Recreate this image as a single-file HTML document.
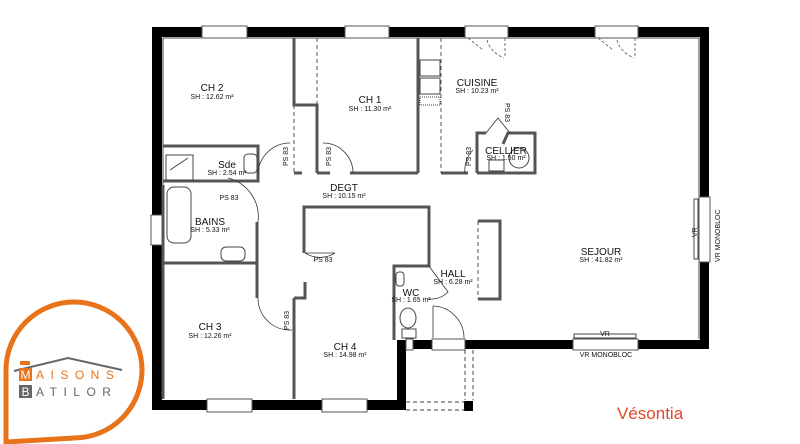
<!DOCTYPE html>
<html><head><meta charset="utf-8"><style>
html,body{margin:0;padding:0;background:#fff}
svg{display:block}
text{font-family:"Liberation Sans",Arial,sans-serif;fill:#111}
.n{font-size:10px}
.s{font-size:7px}
</style></head><body>
<svg width="800" height="444" viewBox="0 0 800 444" xmlns="http://www.w3.org/2000/svg">
<rect width="800" height="444" fill="#fff"/>
<!-- exterior black walls -->
<g fill="#000">
<rect x="152" y="27" width="557" height="10"/>
<rect x="152" y="27" width="10" height="383"/>
<rect x="152" y="400" width="253" height="10"/>
<rect x="397" y="340" width="9" height="70"/>
<rect x="406" y="340" width="303" height="9"/>
<rect x="700" y="27" width="9" height="322"/>
<rect x="464" y="401" width="9" height="10"/>
</g>
<!-- inner wall line -->
<path d="M163 38 H699 V339 M163 38 V399" fill="none" stroke="#444" stroke-width="1"/>
<!-- windows -->
<g fill="#fff" stroke="#555" stroke-width="1">
<rect x="202" y="26" width="45" height="12"/>
<rect x="345" y="26" width="44" height="12"/>
<rect x="465" y="26" width="43" height="12"/>
<rect x="595" y="26" width="43" height="12"/>
<rect x="151" y="215" width="12" height="30"/>
<rect x="207" y="399" width="45" height="13"/>
<rect x="322" y="399" width="45" height="13"/>
<rect x="573" y="339" width="65" height="11"/>
<rect x="699" y="197" width="11" height="65"/>
<rect x="432" y="339" width="33" height="11"/>
<rect x="406" y="339" width="7" height="11" fill="#fff"/>
</g>
<!-- window swings in kitchen/sejour -->
<g fill="none" stroke="#555" stroke-width="0.8" stroke-dasharray="3,2">
<path d="M468 38 L483 50 M487 40 Q490 52 504 58 M505 38 V58"/>
<path d="M598 38 L613 50 M617 40 Q620 52 634 58 M635 38 V58"/>
</g>
<!-- garage dashed -->
<path d="M406 410 H465 M465 350 V400 M473 350 V400" fill="none" stroke="#444" stroke-width="1" stroke-dasharray="4,3"/>
<path d="M406 402 H465" fill="none" stroke="#444" stroke-width="1" stroke-dasharray="4,3"/>
<!-- interior walls -->
<g fill="none" stroke="#555" stroke-width="3">
<path d="M294 38 V105 H317 V173"/>
<path d="M418 38 V173"/>
<path d="M163 146 H258 V181 H163"/>
<path d="M163 263 H257 V222"/>
<path d="M257 263 V298"/>
<path d="M294 298 V399"/>
<path d="M294 298 H305 V282 M304 253 V207 H429 V266 H394 V340"/>
<path d="M317 173 H330 M350 173 H418 M441 173 H468 M294 173 H302"/>
<path d="M477 173 V133 H486 M503 144 L508 133 H535 V173 H477"/>
<path d="M478 221 H500 V299 H478"/>
<path d="M163 185 V399"/>
</g>
<g fill="none" stroke="#555" stroke-width="1" stroke-dasharray="4,3">
<path d="M317 38 V105 M294 105 V173 M441 38 V173 M478 221 V299 M200 146 H230"/>
</g>
<!-- doors -->
<g fill="none" stroke="#333" stroke-width="0.8">
<path d="M258 175 A32 32 0 0 1 290 143"/>
<path d="M353 173 A30 30 0 0 0 323 143"/>
<path d="M465 173 A28 28 0 0 1 473 150"/>
<path d="M486 133 L498 118 L510 133"/>
<path d="M228 178 A40 40 0 0 1 258 222"/>
<path d="M305 253 A28 28 0 0 0 335 253 M305 253 H335"/>
<path d="M258 298 A32 32 0 0 0 292 330"/>
<path d="M429 266 L448 292 Q440 300 428 299"/>
<path d="M433 306 V338 M433 306 A32 32 0 0 1 464 338"/>
</g>
<!-- fixtures -->
<g fill="none" stroke="#444" stroke-width="1">
<rect x="420" y="60" width="20" height="16"/><rect x="420" y="78" width="20" height="16"/>
<rect x="420" y="97" width="20" height="8" stroke-dasharray="1,1"/>
<rect x="166" y="155" width="27" height="25"/>
<path d="M170 170 L188 158"/>
<rect x="244" y="154" width="13" height="19" rx="4"/>
<rect x="167" y="187" width="24" height="56" rx="7"/>
<rect x="221" y="247" width="24" height="14" rx="5"/>
<rect x="396" y="272" width="8" height="14" rx="3"/>
<ellipse cx="408" cy="318" rx="8" ry="10"/>
<rect x="402" y="329" width="14" height="9"/>
<circle cx="519" cy="158" r="10"/>
<rect x="489" y="160" width="15" height="11"/>
<rect x="574" y="334" width="62" height="4"/>
<rect x="694" y="199" width="4" height="60"/>
</g>
<!-- labels -->
<g text-anchor="middle">
<text class="n" x="212" y="91">CH 2</text><text class="s" x="212" y="99">SH : 12.62 m²</text>
<text class="n" x="370" y="103">CH 1</text><text class="s" x="370" y="111">SH : 11.30 m²</text>
<text class="n" x="477" y="86">CUISINE</text><text class="s" x="477" y="93">SH : 10.23 m²</text>
<text class="n" x="227" y="168">Sde</text><text class="s" x="227" y="175">SH : 2.54 m²</text>
<text class="n" x="344" y="191">DEGT</text><text class="s" x="344" y="198">SH : 10.15 m²</text>
<text class="n" x="210" y="225">BAINS</text><text class="s" x="210" y="232">SH : 5.33 m²</text>
<text class="n" x="506" y="154">CELLIER</text><text class="s" x="506" y="160">SH : 1.50 m²</text>
<text class="n" x="601" y="255">SEJOUR</text><text class="s" x="601" y="262">SH : 41.82 m²</text>
<text class="n" x="453" y="277">HALL</text><text class="s" x="453" y="284">SH : 6.28 m²</text>
<text class="n" x="411" y="296">WC</text><text class="s" x="411" y="302">SH : 1.65 m²</text>
<text class="n" x="210" y="330">CH 3</text><text class="s" x="210" y="338">SH : 12.26 m²</text>
<text class="n" x="345" y="350">CH 4</text><text class="s" x="345" y="357">SH : 14.98 m²</text>
<text class="s" x="229" y="200">PS 83</text>
<text class="s" x="323" y="262">PS 83</text>
<text class="s" x="605" y="336">VR</text>
<text class="s" x="606" y="357">VR MONOBLOC</text>
</g>
<g class="s">
<text class="s" transform="translate(288,166) rotate(-90)">PS 83</text>
<text class="s" transform="translate(331,166) rotate(-90)">PS 83</text>
<text class="s" transform="translate(471,166) rotate(-90)">PS 83</text>
<text class="s" transform="translate(505,103) rotate(90)">PS 83</text>
<text class="s" transform="translate(289,330) rotate(-90)">PS 83</text>
<text class="s" transform="translate(697,237) rotate(-90)">VR</text>
<text class="s" transform="translate(720,262) rotate(-90)">VR MONOBLOC</text>
</g>
<text x="617" y="419" font-size="17" style="fill:#e0452b">Vésontia</text>
<!-- logo -->
<path d="M6 442 V370 A68 68 0 1 1 74 438 Z" fill="#fff" stroke="#e8731a" stroke-width="5"/>
<path d="M14 371 L68 358 L122 370" fill="none" stroke="#666" stroke-width="2"/>
<rect x="20" y="361" width="10" height="4" fill="#e8731a"/>
<rect x="19" y="368" width="13" height="13" fill="#e8731a"/>
<text x="25.5" y="379" font-size="12" text-anchor="middle" style="fill:#fff">M</text>
<text x="36" y="379" font-size="12" letter-spacing="6.5" style="fill:#e8731a">AISONS</text>
<rect x="19" y="385" width="13" height="13" fill="#666"/>
<text x="25.5" y="396" font-size="12" text-anchor="middle" style="fill:#fff">B</text>
<text x="36" y="396" font-size="12" letter-spacing="6.5" style="fill:#666">ATILOR</text>
</svg>
</body></html>
